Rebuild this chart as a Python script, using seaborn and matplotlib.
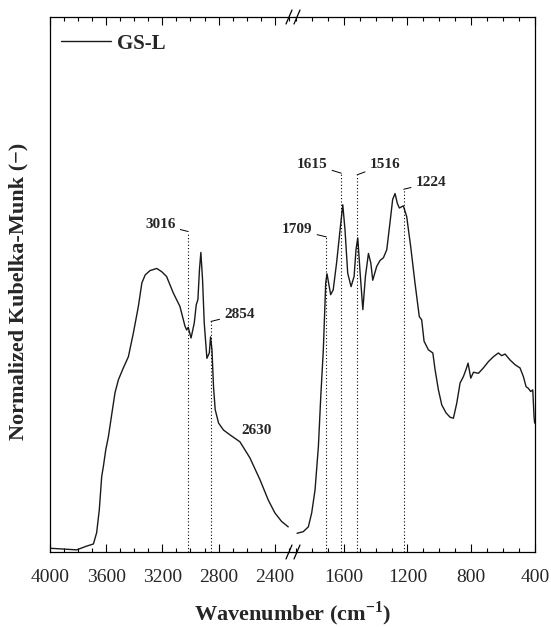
import numpy as np
import pandas as pd
import matplotlib
matplotlib.use("Agg")
import matplotlib.pyplot as plt
import seaborn as sns

# --- data (wavenumber in cm-1, normalized KM) ---
high_wn = [4000, 3810, 3739, 3691, 3668, 3649, 3632, 3620, 3603, 3584, 3559, 3537,
           3513, 3478, 3442, 3406, 3371, 3346, 3322, 3288, 3240, 3205, 3170, 3122,
           3075, 3039, 3027, 3016, 2996, 2973, 2959, 2947, 2936, 2926, 2914, 2902,
           2883, 2866, 2857, 2847, 2836, 2824, 2800, 2765, 2719, 2648, 2577, 2505,
           2446, 2399, 2351, 2304]
high_km = [0.007, 0.004, 0.011, 0.015, 0.036, 0.079, 0.141, 0.160, 0.191, 0.216, 0.260, 0.298,
           0.322, 0.344, 0.365, 0.410, 0.459, 0.503, 0.518, 0.526, 0.530, 0.524, 0.515, 0.484,
           0.459, 0.422, 0.415, 0.420, 0.400, 0.428, 0.462, 0.472, 0.528, 0.560, 0.509, 0.428,
           0.362, 0.372, 0.402, 0.378, 0.309, 0.266, 0.241, 0.228, 0.219, 0.206, 0.176, 0.135,
           0.097, 0.073, 0.057, 0.047]

low_wn = [1893, 1854, 1822, 1801, 1780, 1759, 1744, 1728, 1713, 1705, 1682, 1666, 1645,
          1623, 1606, 1592, 1575, 1554, 1535, 1523, 1512, 1497, 1480, 1464, 1445, 1430,
          1418, 1393, 1372, 1351, 1330, 1310, 1293, 1278, 1264, 1251, 1226, 1205, 1180,
          1153, 1126, 1111, 1096, 1069, 1041, 1027, 1006, 985, 958, 933, 912, 891, 870,
          849, 833, 820, 803, 786, 755, 724, 692, 661, 630, 609, 588, 557, 525, 494,
          473, 456, 442, 427, 414, 406, 402]
low_km = [0.035, 0.038, 0.047, 0.073, 0.116, 0.197, 0.291, 0.378, 0.503, 0.520, 0.481, 0.490, 0.540,
          0.602, 0.649, 0.602, 0.521, 0.496, 0.515, 0.565, 0.587, 0.521, 0.453, 0.515, 0.558, 0.540,
          0.508, 0.534, 0.545, 0.550, 0.565, 0.615, 0.659, 0.670, 0.652, 0.643, 0.647, 0.627, 0.571,
          0.503, 0.440, 0.434, 0.394, 0.378, 0.372, 0.341, 0.303, 0.275, 0.260, 0.252, 0.250, 0.278, 0.316,
          0.328, 0.341, 0.353, 0.325, 0.336, 0.334, 0.344, 0.356, 0.365, 0.372, 0.367, 0.370, 0.359, 0.350, 0.344,
          0.328, 0.309, 0.306, 0.300, 0.303, 0.253, 0.241]

# marked bands and the height of their dotted guides
peaks_high = [3016, 2854]
peaks_high_top = [0.599, 0.431]
peaks_low = [1709, 1615, 1516, 1224]
peaks_low_top = [0.589, 0.708, 0.705, 0.678]
shoulder_label = "2630"
shoulder_pos = (2641, 0.228)

HIGH_LIM = (4000, 2263)
LOW_LIM = (1912, 400)

sns.set_style("ticks")
plt.rcParams["font.family"] = ["Liberation Serif", "DejaVu Serif"]
plt.rcParams["mathtext.fontset"] = "custom"
plt.rcParams["mathtext.rm"] = "Liberation Serif:bold"
plt.rcParams["mathtext.bf"] = "Liberation Serif:bold"

W, H = 551, 627
fig = plt.figure(figsize=(W / 100, H / 100), dpi=100)
bot = (H - 552) / H
ht = (552 - 17) / H
ax1 = fig.add_axes([50 / W, bot, 244 / W, ht])
ax2 = fig.add_axes([294 / W, bot, 241 / W, ht], sharey=ax1)

line_kw = dict(color="#1a1a1a", linewidth=1.0, sort=False, estimator=None)
df_hi = pd.DataFrame({"wn": high_wn, "km": high_km})
df_lo = pd.DataFrame({"wn": low_wn, "km": low_km})
sns.lineplot(data=df_hi, x="wn", y="km", ax=ax1, label="GS-L", **line_kw)
sns.lineplot(data=df_lo, x="wn", y="km", ax=ax2, legend=False, **line_kw)

ax1.set_xlim(*HIGH_LIM)
ax2.set_xlim(*LOW_LIM)
ax1.set_ylim(0, 1)

for ax in (ax1, ax2):
    ax.set_xlabel("")
    ax.set_ylabel("")
    ax.set_yticks([])
    ax.tick_params(axis="x", which="both", direction="in", top=True, bottom=True,
                   labelsize=14, pad=12.5, width=0.8, color="black")
    ax.tick_params(axis="x", which="major", length=5.5)
    ax.tick_params(axis="x", which="minor", length=3)
    for s in ax.spines.values():
        s.set_linewidth(0.9)
        s.set_color("black")

ax1.set_xticks([4000, 3600, 3200, 2800, 2400])
ax1.set_xticks(np.arange(4000, 2263, -100), minor=True)
ax2.set_xticks([1600, 1200, 800, 400])
ax2.set_xticks(np.arange(1900, 399, -100), minor=True)
ax1.spines["right"].set_visible(False)
ax2.spines["left"].set_visible(False)

# dotted guides + labels
def mark(ax, wn, top, dx, dy, ha):
    ax.plot([wn, wn], [0, top], color="black", linestyle=(0, (1, 2)), linewidth=0.8)
    ax.annotate(str(wn), xy=(wn, top), xytext=(dx, dy), textcoords="offset points",
                ha=ha, va="center", fontsize=11, fontweight="bold",
                arrowprops=dict(arrowstyle="-", color="black", lw=0.7, shrinkA=1, shrinkB=0))

offsets_high = [(-9, 5, "right"), (9.5, 5, "left")]
offsets_low = [(-10, 5, "right"), (-10, 6.5, "right"), (9, 7.5, "left"), (8.6, 4.7, "left")]
for wn, top, (dx, dy, ha) in zip(peaks_high, peaks_high_top, offsets_high):
    mark(ax1, wn, top, dx, dy, ha)
for wn, top, (dx, dy, ha) in zip(peaks_low, peaks_low_top, offsets_low):
    mark(ax2, wn, top, dx, dy, ha)
ax1.text(shoulder_pos[0], shoulder_pos[1], shoulder_label, ha="left", va="center",
         fontsize=11, fontweight="bold")

leg = ax1.legend(loc="upper left", bbox_to_anchor=(0.045, 0.969), frameon=False,
                 fontsize=15, handlelength=2.4, handletextpad=0.3, borderpad=0,
                 borderaxespad=0)
for t in leg.get_texts():
    t.set_fontweight("bold")

# axis break marks
for xb in (289, 297):
    for yb in (17, 552):
        fig.add_artist(plt.Line2D([(xb - 3) / W, (xb + 3) / W],
                                  [1 - (yb + 7) / H, 1 - (yb - 7) / H],
                                  color="black", linewidth=0.9))

fig.text(293 / W, 1 - 614 / H, r"Wavenumber (cm$^{-1}$)", ha="center", va="center",
         fontsize=16, fontweight="bold")
fig.text(18 / W, 1 - 291 / H, "Normalized Kubelka-Munk (\u2212)", ha="center", va="center",
         rotation=90, fontsize=16, fontweight="bold")

fig.savefig("out.png", dpi=100)
